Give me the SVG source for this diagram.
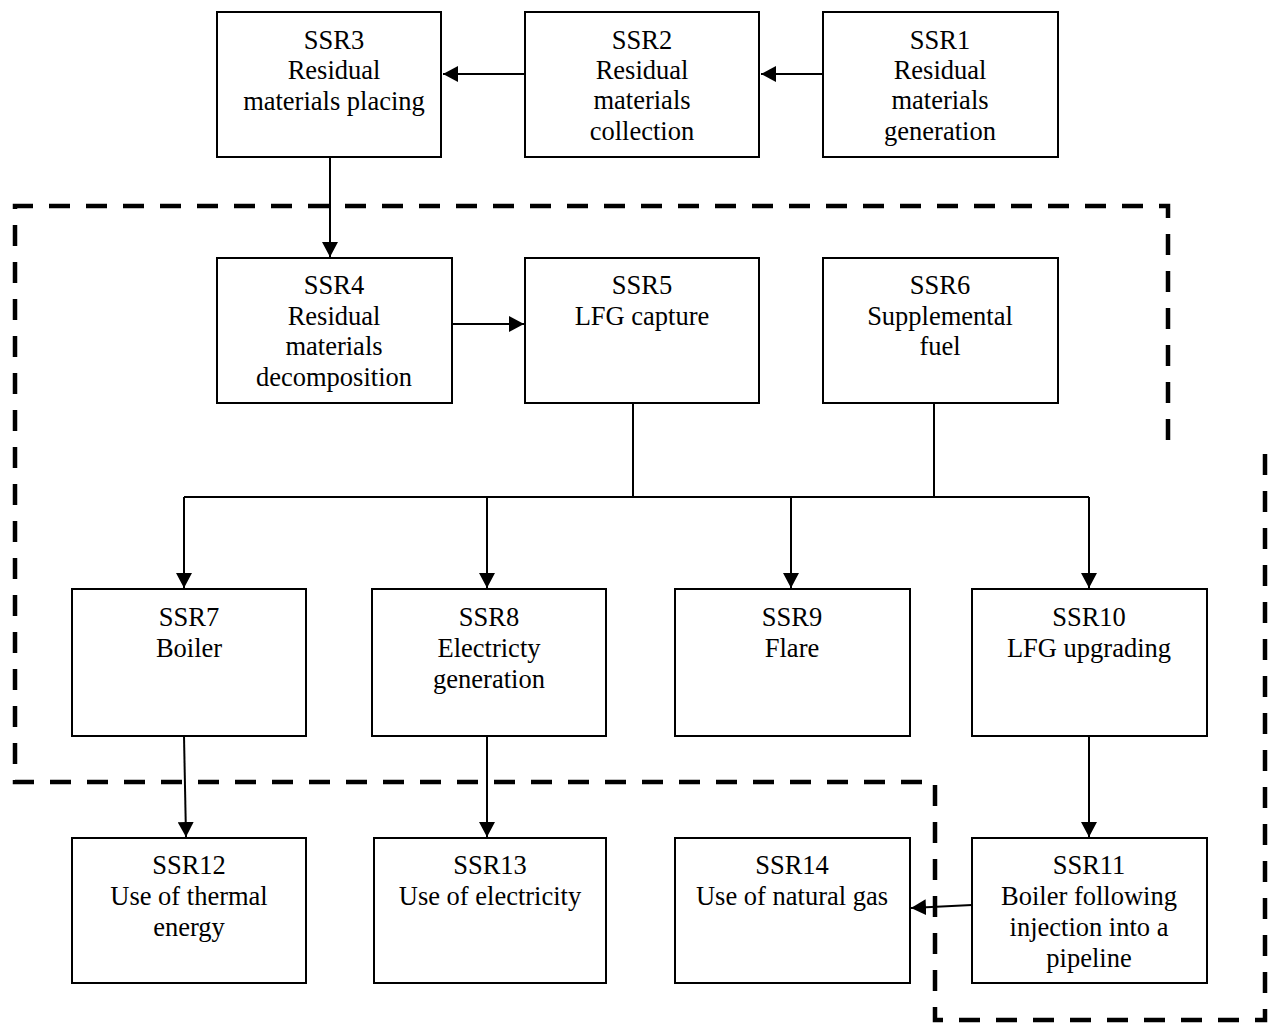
<svg xmlns="http://www.w3.org/2000/svg" width="1276" height="1024" viewBox="0 0 1276 1024">
<style>
.box{fill:#fff;stroke:#000;stroke-width:2}
.t{font-family:"Liberation Serif","Times New Roman",serif;font-size:26.5px;fill:#000;text-anchor:middle}
.c{fill:none;stroke:#000;stroke-width:2}
.d{fill:none;stroke:#000;stroke-width:4.5;stroke-dasharray:21 16}
</style>
<defs>
<marker id="ah" markerUnits="userSpaceOnUse" markerWidth="16" markerHeight="16" refX="15" refY="8" orient="auto">
<path d="M0,0 L15,8 L0,16 Z" fill="#000"/>
</marker>
</defs>
<rect width="1276" height="1024" fill="#fff"/>
<g id="boundaries">
<path class="d" d="M1168,440 L1168,206 L15,206 L15,782 L935,782 L935,1020 L1265,1020 L1265,445"/>
</g>
<g id="connectors">
<line class="c" x1="823" y1="74" x2="761" y2="74" marker-end="url(#ah)"/>
<line class="c" x1="525" y1="74" x2="443" y2="74" marker-end="url(#ah)"/>
<line class="c" x1="330" y1="157" x2="330" y2="257" marker-end="url(#ah)"/>
<line class="c" x1="452" y1="324" x2="524" y2="324" marker-end="url(#ah)"/>
<line class="c" x1="633" y1="403" x2="633" y2="497"/>
<line class="c" x1="934" y1="403" x2="934" y2="497"/>
<line class="c" x1="184" y1="497" x2="1089" y2="497"/>
<line class="c" x1="184" y1="497" x2="184" y2="588" marker-end="url(#ah)"/>
<line class="c" x1="487" y1="497" x2="487" y2="588" marker-end="url(#ah)"/>
<line class="c" x1="791" y1="497" x2="791" y2="588" marker-end="url(#ah)"/>
<line class="c" x1="1089" y1="497" x2="1089" y2="588" marker-end="url(#ah)"/>
<line class="c" x1="184" y1="736" x2="186" y2="837" marker-end="url(#ah)"/>
<line class="c" x1="487" y1="736" x2="487" y2="837" marker-end="url(#ah)"/>
<line class="c" x1="1089" y1="736" x2="1089" y2="837" marker-end="url(#ah)"/>
<line class="c" x1="972" y1="905" x2="911" y2="908" marker-end="url(#ah)"/>
</g>
<g id="SSR3"><rect class="box" x="217" y="12" width="224" height="145"/>
<text class="t" x="334" y="49">SSR3</text><text class="t" x="334" y="79">Residual</text><text class="t" x="334" y="110">materials placing</text></g>
<g id="SSR2"><rect class="box" x="525" y="12" width="234" height="145"/>
<text class="t" x="642" y="49">SSR2</text><text class="t" x="642" y="79">Residual</text><text class="t" x="642" y="109">materials</text><text class="t" x="642" y="140">collection</text></g>
<g id="SSR1"><rect class="box" x="823" y="12" width="235" height="145"/>
<text class="t" x="940" y="49">SSR1</text><text class="t" x="940" y="79">Residual</text><text class="t" x="940" y="109">materials</text><text class="t" x="940" y="140">generation</text></g>
<g id="SSR4"><rect class="box" x="217" y="258" width="235" height="145"/>
<text class="t" x="334" y="294">SSR4</text><text class="t" x="334" y="325">Residual</text><text class="t" x="334" y="355">materials</text><text class="t" x="334" y="386">decomposition</text></g>
<g id="SSR5"><rect class="box" x="525" y="258" width="234" height="145"/>
<text class="t" x="642" y="294">SSR5</text><text class="t" x="642" y="325">LFG capture</text></g>
<g id="SSR6"><rect class="box" x="823" y="258" width="235" height="145"/>
<text class="t" x="940" y="294">SSR6</text><text class="t" x="940" y="325">Supplemental</text><text class="t" x="940" y="355">fuel</text></g>
<g id="SSR7"><rect class="box" x="72" y="589" width="234" height="147"/>
<text class="t" x="189" y="626">SSR7</text><text class="t" x="189" y="657">Boiler</text></g>
<g id="SSR8"><rect class="box" x="372" y="589" width="234" height="147"/>
<text class="t" x="489" y="626">SSR8</text><text class="t" x="489" y="657">Electricty</text><text class="t" x="489" y="688">generation</text></g>
<g id="SSR9"><rect class="box" x="675" y="589" width="235" height="147"/>
<text class="t" x="792" y="626">SSR9</text><text class="t" x="792" y="657">Flare</text></g>
<g id="SSR10"><rect class="box" x="972" y="589" width="235" height="147"/>
<text class="t" x="1089" y="626">SSR10</text><text class="t" x="1089" y="657">LFG upgrading</text></g>
<g id="SSR12"><rect class="box" x="72" y="838" width="234" height="145"/>
<text class="t" x="189" y="874">SSR12</text><text class="t" x="189" y="905">Use of thermal</text><text class="t" x="189" y="936">energy</text></g>
<g id="SSR13"><rect class="box" x="374" y="838" width="232" height="145"/>
<text class="t" x="490" y="874">SSR13</text><text class="t" x="490" y="905">Use of electricity</text></g>
<g id="SSR14"><rect class="box" x="675" y="838" width="235" height="145"/>
<text class="t" x="792" y="874">SSR14</text><text class="t" x="792" y="905">Use of natural gas</text></g>
<g id="SSR11"><rect class="box" x="972" y="838" width="235" height="145"/>
<text class="t" x="1089" y="874">SSR11</text><text class="t" x="1089" y="905">Boiler following</text><text class="t" x="1089" y="936">injection into a</text><text class="t" x="1089" y="967">pipeline</text></g>
</svg>
